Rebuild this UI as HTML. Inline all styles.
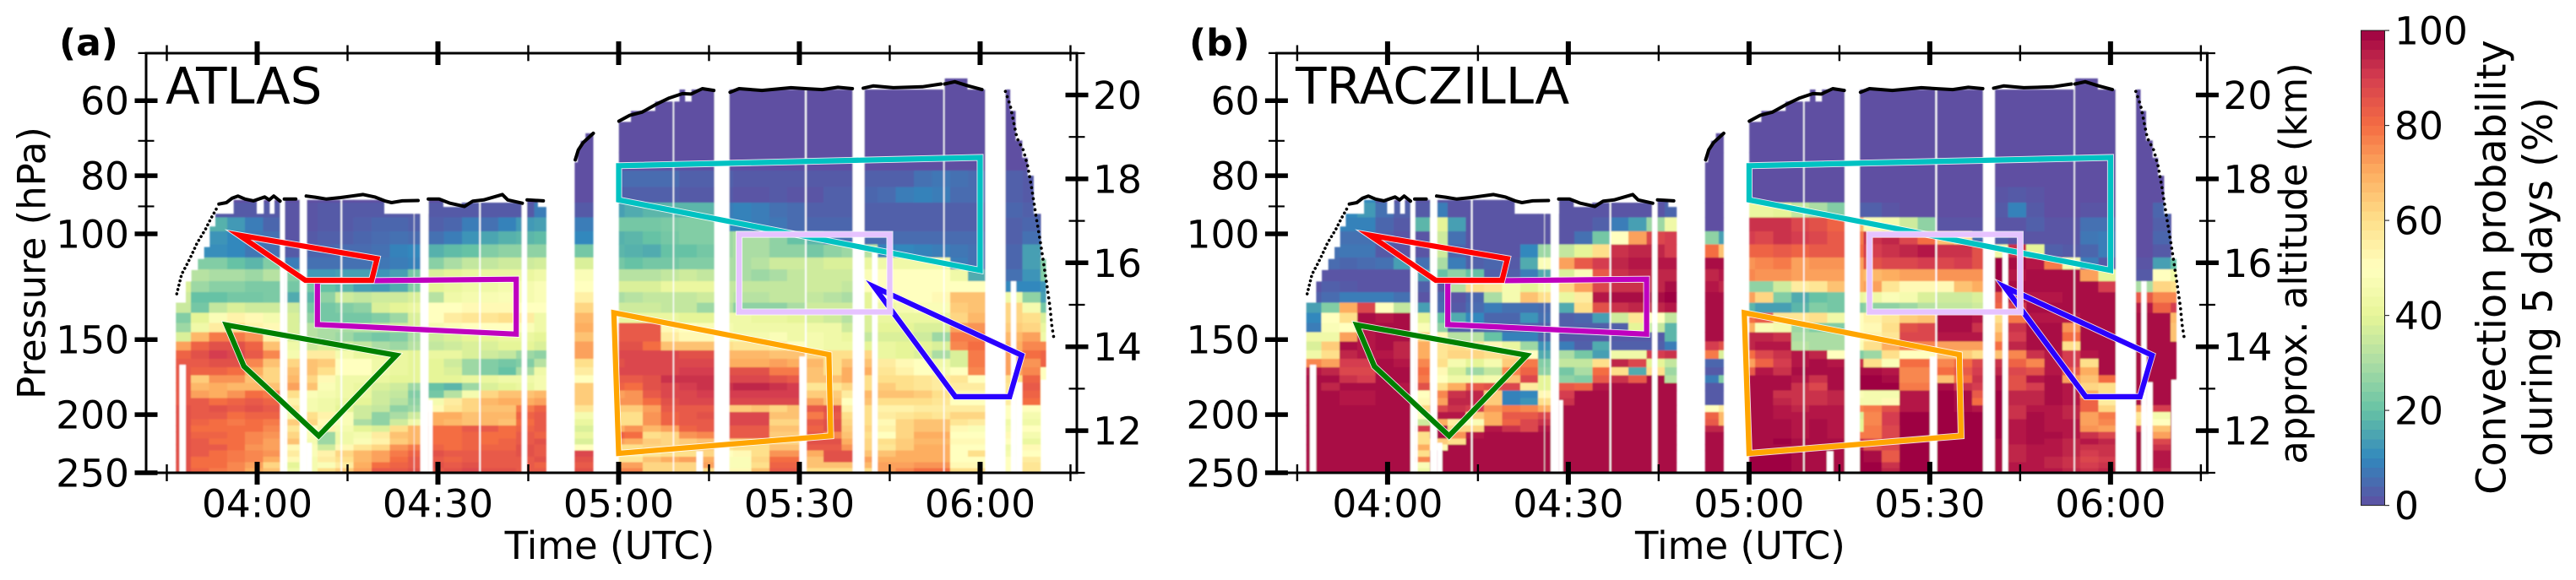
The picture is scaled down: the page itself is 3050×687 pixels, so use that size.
<!DOCTYPE html>
<html lang="en">
<head>
<meta charset="utf-8">
<title>Convection probability along flight: ATLAS and TRACZILLA</title>
<style>
html,body{margin:0;padding:0;background:#fff;}
svg{display:block;font-family:"DejaVu Sans","Liberation Sans",sans-serif;fill:#000;}
</style>
</head>
<body>
<svg id="figure" xmlns="http://www.w3.org/2000/svg" width="3050" height="687" viewBox="0 0 3050 687">
  <defs>
    <filter id="soft" x="-2%" y="-2%" width="104%" height="104%"><feGaussianBlur stdDeviation="0.7"/></filter>
  </defs>
  <rect x="0" y="0" width="3050" height="687" fill="#fff"/>
  <g id="panel-a"></g>
  <g id="panel-b"></g>
  <g id="colorbar"></g>

  <text x="70" y="65.7" font-size="44" font-weight="bold">(a)</text>
  <text x="1408" y="65.7" font-size="44" font-weight="bold">(b)</text>
  <text x="196" y="122.7" font-size="59.5">ATLAS</text>
  <text x="1534" y="122.7" font-size="59.7">TRACZILLA</text>
  <text x="722" y="662" font-size="45" text-anchor="middle">Time (UTC)</text>
  <text x="2060.4" y="662" font-size="45" text-anchor="middle">Time (UTC)</text>
  <text transform="translate(53.5,311.5) rotate(-90)" font-size="45" text-anchor="middle">Pressure (hPa)</text>
  <text transform="translate(2731,312) rotate(-90)" font-size="45" text-anchor="middle">approx. altitude (km)</text>
  <text transform="translate(2966.5,316.6) rotate(-90)" font-size="47.8" text-anchor="middle">Convection probability</text>
  <text transform="translate(3021.5,328) rotate(-90)" font-size="47.8" text-anchor="middle">during 5 days (%)</text>
</svg>
<script>
// ---------- data: columns start at -14 min relative to 04:00, 3 min wide ----------
const columnStart = -14;
const columnMinutes = 3;
const pressureEdges = [47.6,52.7,57.8,62.95,68.1,73.2,78.4,83.5,88.7,93.9,99,104.2,109.4,114.6,119.8,125,130.2,135.4,140.6,145.8,151,156.2,161.5,166.7,171.9,177.1,182.4,187.6,192.9,198.1,203.4,208.6,213.8,219.1,224.4,229.6,234.9,240.1,245.4,250.7,255.9,261.2];

const atlasValues = [
[0],[0],[0],[0],[0],[0],
[0,0,0,0,0,0,0,0,0,0,0,0,0,0,0,0,0,0,0,0,0,0,0,0, 5,5,5,5,3,3,3,2,2,2,2,2,2,2,3,3,3,6,7,6,5,5,3,2,0],
[0,0,0,0,0,0,0,0,0,0,0,0,0,0,0,0,0,0,0,0,0,0,0,0, 3,3,3,3,2,2,2,1,1,2,1,1,3,3,4,5,8,9,8,5,5,5,3,2,0],
[0,0,2,2,2,2,1,1,2,2,2,2,2,2,2,2,2,2,2,2,8,8,2,2, 14,16,18,18,18,18,8,9,8,6,5,3,3,3,3,3,3,3,3,3,3,3,4,3,0],
[0,0,17,13,8,4,1,1,2,2,3,4,4,3,3,4,8,6,9,13,14,14,8,8, 22,22,22,23,24,24,10,9,8,7,5,4,4,4,3,3,3,3,3,3,3,3,3,4,0],
[0,0,12,10,7,6,1,2,3,3,4,5,6,5,6,8,12,15,17,18,19,19,10,10, 17,18,20,22,24,24,28,30,30,26,20,18,7,6,5,5,5,5,5,5,5,3,3,6,0],
[0,11,11,10,7,6,2,4,4,5,5,6,9,10,17,19,20,24,26,26,26,26,22,22, 18,17,16,20,20,22,28,30,30,26,26,22,26,28,32,9,10,9,8,7,6,3,4,14,0],
[0,24,24,20,18,24,8,6,6,6,6,7,8,9,25,30,34,34,36,36,37,38,38,38, 22,20,22,22,24,24,30,30,32,36,36,36,38,38,42,44,44,44,44,8,6,3,4,14,24],
[0,32,30,30,28,32,25,13,13,14,14,12,14,22,38,40,42,42,42,42,44,46,48,48, 32,32,32,34,36,34,30,30,28,30,34,36,36,36,48,50,50,50,50,44,16,3,6,12,24],
[38,28,25,25,23,23,22,22,20,18,14,13,16,24,40,42,44,44,46,46,48,48,50,50, 38,38,38,42,42,42,34,34,34,34,34,36,36,34,50,50,50,50,50,50,50,3,10,10,12],
[36,20,20,22,22,23,16,18,26,36,34,36,36,38,32,44,46,47,48,46,48,48,55,55, 30,32,34,34,34,36,34,32,32,34,34,34,32,30,40,48,50,50,52,66,66,3,44,26,14],
[35,22,34,38,36,36,36,22,22,24,26,38,40,42,50,50,52,52,52,50,50,48,62,62, 36,36,36,34,34,28,32,26,26,26,30,36,36,36,40,44,46,48,48,64,66,3,62,46,22],
[24,40,48,54,52,46,38,26,22,22,22,24,28,38,50,56,58,58,60,56,44,44,68,68, 42,42,42,42,40,40,44,44,42,42,40,38,36,32,38,42,42,42,42,62,68,3,62,60,38],
[28,44,56,60,54,52,38,32,30,30,32,34,36,38,46,48,50,50,50,48,44,44,70,70, 84,84,84,52,50,48,46,44,44,44,44,44,44,36,38,40,40,38,38,72,74,3,64,62,42],
[38,68,78,78,74,54,38,32,30,28,24,22,24,30,36,38,40,40,42,42,40,40,66,66, 84,84,84,56,52,52,46,46,46,48,44,46,44,42,34,38,38,36,28,78,78,3,68,72,44],
[72,82,86,86,82,66,44,36,38,36,34,30,28,32,34,36,38,38,40,40,38,40,72,72, 86,86,80,66,66,66,60,58,58,56,50,46,44,44,40,42,40,40,38,76,80,3,70,76,76],
[82,86,90,88,84,76,46,56,56,46,42,42,42,40,42,42,38,36,34,28,26,30,72,72, 88,88,88,88,86,86,68,68,68,66,66,62,60,60,62,42,40,38,30,38,78,3,72,80,82],
[84,84,86,86,76,66,62,66,64,50,50,44,42,40,40,36,28,24,22,24,32,40,60,60, 86,88,88,88,88,88,70,70,70,72,70,68,60,66,66,56,52,50,44,38,78,3,72,74,82],
[84,82,82,80,70,62,66,66,60,50,50,44,42,40,40,38,28,24,20,30,44,46,56,56, 88,88,88,88,90,90,86,86,86,78,78,66,60,70,70,58,54,50,46,50,76,3,72,76,50],
[84,64,74,74,66,62,68,62,52,44,44,42,40,40,40,40,42,42,44,44,46,46,50,50, 84,84,86,92,92,92,88,88,88,86,84,66,66,70,60,60,60,58,56,58,50,3,60,82,50],
[84,68,70,68,68,66,72,66,48,44,42,38,36,28,20,18,28,38,40,42,46,46,64,64, 82,80,86,88,90,92,92,94,94,92,90,58,58,62,60,64,60,58,56,56,56,3,58,84,50],
[84,72,70,74,80,78,60,48,46,44,42,36,34,24,22,32,46,62,66,66,68,70,64,64, 72,74,84,88,88,90,90,90,90,90,90,64,64,56,68,66,66,64,60,52,52,3,58,82,50],
[84,84,80,82,84,82,54,46,44,42,40,36,32,26,46,56,62,68,70,70,72,74,64,64, 74,74,80,86,88,88,88,88,88,88,88,72,66,50,66,60,60,60,58,50,50,3,56,80,50],
[86,84,86,84,86,84,58,46,44,40,36,34,26,28,52,58,62,66,66,78,82,86,58,58, 64,64,72,84,84,84,64,64,66,62,66,84,86,54,60,54,54,56,56,56,56,3,50,50,50],
[86,84,84,80,82,82,46,60,54,48,36,26,30,36,70,70,66,68,68,82,84,88,46,46, 60,60,74,82,84,86,88,88,88,66,66,78,84,60,60,56,58,60,58,62,62,3,50,46,50],
[86,82,80,78,80,78,64,62,52,48,30,26,36,44,70,68,66,68,66,80,84,88,42,42, 60,60,74,82,84,84,88,88,88,62,62,84,86,62,60,52,62,66,66,58,56,3,44,44,50],
[86,80,80,80,80,76,58,50,54,46,40,38,60,68,80,80,84,84,80,82,84,86,38,38, 70,74,68,72,82,84,84,84,84,66,66,82,86,64,62,54,62,66,66,52,48,3,46,50,50],
[86,82,82,80,76,74,62,48,28,44,46,56,66,68,80,80,82,80,80,84,82,88,42,42, 82,80,60,62,74,76,84,84,84,64,64,84,76,66,60,50,62,70,70,50,50,3,52,46,50],
[86,84,80,80,76,72,66,46,28,44,48,54,64,68,80,80,82,80,82,84,86,86,38,38, 72,70,64,62,64,66,62,62,62,62,62,86,86,70,62,60,64,68,68,52,52,3,50,42,50],
[86,84,84,80,74,72,52,48,36,52,58,62,74,78,82,80,82,82,82,86,84,86,50,50, 60,60,62,62,62,64,58,60,60,66,66,84,84,74,62,58,64,70,70,50,50,3,44,52,50],
[86,84,80,78,76,74,56,48,54,62,68,72,78,82,86,84,84,84,84,86,84,84,88,88, 54,54,58,60,60,62,50,52,60,74,74,70,86,86,66,66,70,70,70,50,60,3,46,50,50],
[86,80,80,78,76,70,52,46,56,60,68,72,80,84,84,82,84,84,84,84,86,84,86,86, 58,58,66,70,72,70,48,48,62,80,80,66,86,86,72,70,70,70,70,50,50,3,50,56,50],
[86,80,80,76,72,62,40,46,48,56,70,80,82,84,86,84,86,84,84,84,82,84,84,84, 72,72,62,62,62,72,48,48,60,82,82,66,66,66,68,72,72,74,74,52,52,3,50,58,50],
[86,82,78,76,70,66,44,46,60,64,72,84,84,86,84,86,88,86,86,84,84,84,86,86, 76,76,62,62,62,60,52,52,66,84,84,60,60,60,60,72,76,80,80,60,60,3,50,58,50],
[86,82,80,76,72,66,42,46,58,62,72,82,84,84,86,86,88,86,88,86,84,84,86,86, 76,76,62,62,62,60,52,52,66,84,84,62,62,62,70,74,78,80,80,60,62,3,50,56,50],
[86,82,80,76,72,66,42,46,58,62,72,82,84,84,86,86,88,86,88,86,84,84,86,86, 76,76,62,62,62,60,52,52,66,84,84,62,62,62,70,74,78,80,80,60,62,3,50,56,50]
];

const traczillaValues = [
[0],[0],[0],[0],[0],[0],[0],
[1,1,1,10,1,1,1,1,1,1,1,1,1,1,1,1,1,1,1,1,1,1,0,0, 0,0,0,0,0,0,0,0,0,0,0,0,0,0,1,2,1,0,0,0,0,0,0,0,0],
[0,0,10,13,6,3,2,8,1,1,1,1,1,1,1,1,1,1,1,1,4,4,0,0, 42,42,40,34,30,24,3,3,1,0,0,0,0,0,2,9,2,0,0,1,1,0,0,4,0],
[0,0,9,9,4,2,18,40,14,1,1,1,1,1,1,1,3,8,14,28,44,50,0,0, 92,92,92,88,86,82,68,48,46,36,26,1,1,1,1,1,3,1,1,6,6,0,0,3,0],
[0,6,6,6,3,1,1,36,6,1,1,1,1,1,1,6,22,50,72,88,90,90,26,14, 90,88,92,90,88,84,78,92,94,88,80,66,60,6,3,1,1,1,1,7,8,0,0,4,0],
[0,6,7,7,2,1,1,36,4,1,1,1,10,28,34,40,60,92,94,94,90,90,80,66, 82,82,84,82,84,84,80,90,92,94,96,92,92,86,44,92,40,3,2,4,8,0,0,2,0],
[0,5,4,5,6,14,6,30,8,3,4,2,16,48,72,84,90,94,96,96,96,88,98,98, 74,76,78,72,74,74,72,86,88,88,90,88,90,86,100,98,96,78,46,8,2,0,1,14,20],
[0,1,1,1,1,1,14,20,26,20,3,3,8,16,38,48,84,92,94,94,94,94,94,96, 76,74,74,72,72,72,70,68,70,72,72,74,74,74,100,96,98,98,98,72,40,0,2,50,44],
[1,3,2,1,1,1,3,1,32,60,58,46,40,46,62,72,88,92,92,94,98,98,96,94, 26,26,36,56,58,66,70,72,58,52,52,52,66,70,98,98,98,98,98,98,90,0,30,62,60],
[3,5,8,8,8,6,1,4,1,4,30,46,66,60,42,56,96,98,98,98,100,98,98,98, 72,62,24,16,20,22,42,44,48,46,38,36,36,38,84,96,96,96,98,98,98,0,84,76,76],
[14,24,70,88,50,34,14,5,2,5,8,6,6,5,16,60,86,92,94,94,96,96,98,98, 18,14,14,18,24,22,24,26,26,28,32,34,34,36,82,90,98,98,98,98,98,0,96,82,90],
[10,50,60,98,96,98,40,20,16,10,4,4,12,6,3,4,14,36,58,50,34,34,98,98, 80,84,58,58,60,44,50,54,58,64,66,98,98,96,60,78,96,96,96,98,98,0,98,98,68],
[8,48,50,96,98,98,48,26,3,3,3,3,3,3,3,3,3,3,40,34,18,5,98,98, 70,48,46,28,24,24,50,52,60,86,88,98,98,92,64,92,98,98,74,98,98,0,98,98,66],
[44,44,72,96,98,98,62,52,32,32,20,9,9,4,2,2,2,2,2,2,18,2,98,98, 94,94,92,30,30,30,50,54,58,88,88,96,96,96,70,90,98,98,80,98,98,0,98,98,66],
[38,64,98,96,98,94,70,58,60,58,52,42,28,12,8,3,16,3,3,3,8,72,90,86, 94,96,96,32,30,30,48,60,70,76,76,72,72,72,80,94,98,98,60,98,98,0,98,98,98],
[44,60,94,96,96,94,70,58,62,62,60,62,50,16,30,22,14,44,44,90,92,76,78,38, 80,88,92,96,94,50,24,28,60,50,50,66,64,60,66,76,92,96,90,96,98,0,98,98,98],
[76,72,90,90,98,96,76,60,46,40,46,64,78,24,34,34,60,94,88,40,34,14,4,4, 72,82,90,96,98,96,92,60,48,80,80,76,80,88,92,82,76,96,90,60,98,0,98,98,98],
[96,94,88,88,98,98,80,52,38,28,34,76,82,26,22,30,80,60,16,60,28,100,2,2, 84,96,92,98,98,98,98,98,96,76,76,80,84,90,94,88,86,96,84,70,98,0,98,98,98],
[98,98,92,90,98,98,78,50,44,44,46,66,88,40,26,24,84,92,84,98,32,100,8,24, 98,98,98,96,92,98,100,100,98,76,76,66,80,92,98,86,96,98,72,66,80,0,98,98,98],
[98,94,98,98,98,96,86,60,70,84,86,88,56,40,84,82,96,98,98,98,98,98,2,2, 98,98,98,92,88,98,100,100,100,78,78,98,92,90,98,86,90,98,96,62,60,0,98,98,98],
[98,98,96,96,98,98,50,76,92,94,64,9,10,52,90,98,98,98,98,98,98,98,2,2, 98,98,92,92,92,94,48,46,46,96,96,100,98,84,100,94,94,98,96,70,60,0,98,98,98],
[98,98,96,96,98,98,52,72,94,94,64,9,12,60,92,98,98,98,98,98,98,98,2,2, 98,98,94,92,92,94,46,46,52,96,96,100,98,80,100,94,94,98,96,82,56,0,98,98,98],
[98,98,98,98,98,98,62,88,92,90,74,78,76,70,98,98,98,98,98,98,98,98,50,56, 98,98,96,94,96,96,76,78,86,96,96,100,98,96,100,92,96,96,94,82,62,0,72,90,98],
[98,98,98,98,98,98,50,96,96,64,70,84,84,88,98,98,98,98,98,98,98,98,82,68, 98,98,96,96,96,96,38,76,90,100,100,100,100,100,100,92,98,96,94,72,78,0,58,46,98],
[98,98,98,98,98,98,36,70,56,48,70,82,88,92,98,98,98,98,98,98,98,98,84,68, 98,98,98,96,98,96,40,76,90,100,100,100,100,100,100,96,98,96,96,72,76,0,60,50,98],
[98,98,98,98,98,98,90,98,62,62,96,92,88,96,98,98,98,98,98,98,98,98,94,94, 98,98,98,96,98,96,40,78,88,100,100,100,100,100,100,96,98,96,96,74,72,0,90,66,98],
[98,98,98,98,98,98,60,98,74,96,98,98,98,98,98,98,98,98,98,98,98,98,98,98, 98,98,98,96,98,96,78,78,88,100,100,100,100,100,100,96,98,98,96,92,88,0,98,72,98],
[98,98,98,98,98,98,60,64,60,98,98,98,98,98,98,98,98,98,98,98,98,98,98,98, 98,98,100,98,98,98,92,90,92,100,100,100,100,100,98,96,98,96,94,96,94,0,98,88,98],
[98,98,98,98,98,98,70,52,98,98,98,98,98,98,98,98,98,98,98,98,98,98,98,98, 98,98,98,98,98,98,96,86,88,100,100,100,100,100,98,94,96,96,94,92,92,0,98,92,98],
[98,98,98,98,98,98,60,98,98,98,98,98,98,98,98,98,98,98,98,98,98,98,98,98, 100,100,100,98,98,98,100,98,84,100,100,100,100,100,98,94,96,96,94,90,92,0,98,96,98],
[98,98,98,98,98,98,76,98,98,98,98,98,98,98,98,98,98,98,98,98,98,98,98,98, 100,100,100,98,98,98,100,98,84,100,100,100,100,100,98,94,96,94,92,88,90,0,98,96,98],
[98,98,98,98,98,98,48,98,98,98,98,98,98,98,98,98,98,98,98,98,98,98,98,98, 100,100,100,98,98,98,100,100,92,100,100,100,100,100,98,96,96,94,92,90,92,0,98,96,98],
[98,98,98,98,98,98,44,98,98,98,98,98,98,98,98,98,98,98,98,98,98,98,98,98, 100,100,100,98,98,98,100,100,94,100,100,100,100,100,98,96,96,96,94,92,94,0,98,94,98],
[98,98,98,98,98,98,60,98,98,98,98,98,98,98,98,98,98,98,98,98,98,98,98,98, 100,100,100,98,98,98,100,100,98,100,100,100,100,100,98,96,96,96,94,92,94,0,98,94,98],
[98,98,98,98,98,98,60,98,98,98,98,98,98,98,98,98,98,98,98,98,98,98,98,98, 100,100,100,98,98,98,100,100,98,100,100,100,100,100,98,96,96,96,94,92,94,0,98,94,98]
];

// sampled-volume top: start minute of each step and its top pressure; null means no data until next step
const ceilingStarts = [-13.49,-11.85,-10.91,-9.84,-8.8,-7.87,-6.94,-3.9,-0.07,1.1,2.08,2.88,21.1,28.44,30.9,33.95,44,46.6,48,52.7,53.2,53.7,54.5,55.8,60.04,62.04,66.07,70.1,71.03,72.1,113.99,117.9,120.86,124.2,125,125.9,127,127.9,128.9,130.1,130.95];
const ceilingTops = [130.2,120,114.9,110.1,105.2,97.2,92.6,87.8,92.6,87.8,92.6,87.8,92.6,87.8,90.2,88.7,87.8,90.2,null,76,72,70,68,null,65.1,62.4,60.2,57.5,60.2,57.5,55.1,57.5,null,57.5,62.4,69.9,74.7,80,92.6,110.1,null];

// missing-data stripes: start minute, end minute, pressure where the stripe begins
const gapStarts = [-12.9,3.8,4.6,7.08,8.25,13.85,26,27.08,28.44,36.85,43.9,69.0,72.9,75.87,90.93,90,98.84,102.06,113.9,120.86,125.1,126,130.1];
const gapEnds = [-11.85,4.6,5,8.25,9.09,14.1,26.1,28.44,29.13,37.1,44.8,69.2,74,78.38,91.2,91.2,100.8,103,114.1,124.2,126,127,131.2];
const gapTops = [165.2,50,113.7,50,222.8,50,50,50,189.2,50,50,50,230.1,50,50,160,50,106.6,50,50,119.9,176.6,175];

// flight track (null breaks the line)
const flightTimes = [-6.35,-5.1,-4.15,-3.2,-2,-0.6,1.25,2,2.75,3.8,null,4.5,6.4,null,8.15,9.65,11.5,13.85,15.7,17.6,19.5,21.3,22.3,24.1,26.7,null,28.4,30.2,32,34.4,35.8,37.6,40.7,41.6,44,null,44.8,47.5,null,52.8,53.3,54.1,55.8,null,60.05,61.8,63.9,66.3,68.4,70.6,72,73.9,75.8,null,78.5,80,83.8,88.6,91,93.8,96.4,98.8,null,100.6,102.3,105.6,110.4,113.5,null,114.1,115.8,118,120.3];
const flightPressures = [89.2,88.7,87.2,86.5,87.5,88.1,86.8,87.8,86.5,88.2,null,87.5,87.5,null,86.5,86.9,87.5,87,86.5,86,86.8,88.2,88.7,88.1,88,null,87.5,87.5,88.9,90,88.2,87.8,86,87.8,88.9,null,87.8,88.1,null,75.3,72.5,70.5,68,null,64.9,63.5,62.7,60.8,59.4,58.4,58.5,57.3,57.7,null,58.1,57.3,57.7,57.1,57.3,57.5,57,57.3,null,57.2,56.7,57.1,56.9,56.3,null,56.3,55.8,56.7,57.5];
const ascentTimes = [-13.35,-12.55,-11.6,-10.9,-10,-8.6,-7.65,-6.7];
const ascentPressures = [125.9,116.8,112.1,108.5,103.7,98.3,94.2,90.6];
const descentTimes = [124.2,125,126.1,127.2,127.9,128.6,129.3,130,130.5,131,131.6,131.9,132.3];
const descentPressures = [57.9,61.1,69.2,72.6,77.1,84.4,93.7,103.2,111.3,120,132.3,141.9,150.5];

// annotated regions in time (minutes after 04:00) and pressure (hPa)
const regionNames = ['magenta-region','red-region','green-region','cyan-region','orange-region','blue-region','lavender-region'];
const regionTimes = [[10,43,43,10],[-3,19.9,19,8],[-5.1,23.1,10.2,-2.2],[60,120,120,60],[59.2,94.9,95.2,60],[102.4,126.9,124.9,115.9],[80,105,105,80]];
const regionPressures = [[119.9,119,146.9,141.6],[100.5,110,119.5,119.5],[141.8,159.3,217,166.2],[77,74.6,115,87.8],[135.3,158.9,217,232],[122.5,159.3,186.7,186.7],[100.2,100.2,134.9,134.9]];
const regionColors = ['#bf00bf','#ff0000','#008000','#00c2c2','#ffa500','#2a00ff','#e6c3ff'];

const timeMajorTicks = [0,30,60,90,120];
const timeMajorLabels = ['04:00','04:30','05:00','05:30','06:00'];
const timeMinorTicks = [-15,15,45,75,105,135];
const pressureMajorTicks = [60,80,100,150,200,250];
const pressureMajorLabels = ['60','80','100','150','200','250'];
const pressureMinorTicks = [50,70,90];
const altitudeMajorTicks = [12,14,16,18,20];
const altitudeMajorLabels = ['12','14','16','18','20'];
const altitudeMinorTicks = [13,15,17,19];
const colorbarTicks = [0,20,40,60,80,100];
const colorbarLabels = ['0','20','40','60','80','100'];
const spectralStops = [[94,79,162],[50,136,189],[102,194,165],[171,221,164],[230,245,152],[255,255,191],[254,224,139],[253,174,97],[244,109,67],[213,62,79],[158,1,66]];

// ---------- scales ----------
const NS = 'http://www.w3.org/2000/svg';
const panelOffset = {a:0,b:1338.4};
const frameLeft = 173, frameRight = 1275, frameTop = 63, frameBottom = 560;
const tickFont = 45.5;
function xScale(t, dx){ return dx + 304.5 + 7.133 * t; }
function yScale(p){ return 277 + 308.9 * Math.log(p / 100); }
function altScale(km){ return 510.1 - (km - 12) * 49.7; }
function cbScale(v){ return 598.6 - v * 5.625; }
function spectral(v){
  const c = Math.max(0, Math.min(100, v)) / 10;
  const i = Math.min(9, Math.floor(c));
  const f = c - i;
  const a = spectralStops[i], b = spectralStops[i + 1];
  return 'rgb(' + [0,1,2].map(k => Math.round(a[k] + (b[k] - a[k]) * f)).join(',') + ')';
}
function make(tag, parent, attrs){
  const el = document.createElementNS(NS, tag);
  for (const k in attrs) el.setAttribute(k, attrs[k]);
  parent.appendChild(el);
  return el;
}

function drawPanel(root, key, values){
  const dx = panelOffset[key];

  // clip of sampled volume
  const defs = make('defs', root, {});
  const clip = make('clipPath', defs, {id: 'volume-' + key});
  ceilingStarts.forEach((s, i) => {
    if (ceilingTops[i] === null || i === ceilingStarts.length - 1) return;
    make('rect', clip, {
      x: xScale(s, dx), y: yScale(ceilingTops[i]),
      width: xScale(ceilingStarts[i + 1], dx) - xScale(s, dx),
      height: frameBottom - yScale(ceilingTops[i])
    });
  });

  const soft = make('g', root, {filter: 'url(#soft)'});
  
  
  const cells = make('g', soft, {'clip-path': 'url(#volume-' + key + ')', 'shape-rendering': 'crispEdges'});
  
  
  values.forEach((row, r) => {
    const yTop = yScale(pressureEdges[r]);
    const yBot = Math.min(frameBottom, yScale(pressureEdges[r + 1]));
    if (yTop >= frameBottom) return;
    const count = row.length === 1 ? 49 : row.length;
    for (let c = 0; c < count; c++) {
      const v = row.length === 1 ? row[0] : row[c];
      const x0 = xScale(columnStart + c * columnMinutes, dx);
      const x1 = xScale(columnStart + (c + 1) * columnMinutes, dx);
      const cell = make('rect', cells, {x: x0, y: yTop, width: x1 - x0 + 0.4, height: yBot - yTop + 0.4, fill: spectral(v)});
      
      
    }
  });

  // missing-data stripes
  gapStarts.forEach((s, i) => {
    const g = make('rect', soft, {
      x: xScale(s, dx), y: yScale(gapTops[i]),
      width: xScale(gapEnds[i], dx) - xScale(s, dx),
      height: frameBottom - yScale(gapTops[i]), fill: '#fff'
    });
    
    
  });

  // flight track
  let segments = [], current = [];
  flightTimes.forEach((t, i) => {
    if (t === null) { segments.push(current); current = []; }
    else current.push(xScale(t, dx).toFixed(1) + ',' + yScale(flightPressures[i]).toFixed(1));
  });
  segments.push(current);
  segments.forEach(seg => {
    const line = make('polyline', root, {points: seg.join(' '), fill: 'none', stroke: '#000', 'stroke-width': 4, 'stroke-linejoin': 'round', 'stroke-linecap': 'round'});
    
    
  });
  const asc = make('polyline', root, {points: ascentTimes.map((t, i) => xScale(t, dx).toFixed(1) + ',' + yScale(ascentPressures[i]).toFixed(1)).join(' '), fill: 'none', stroke: '#000', 'stroke-width': 3.6, 'stroke-linecap': 'round', 'stroke-dasharray': '0.1 5.2'});
  
  
  const desc = make('polyline', root, {points: descentTimes.map((t, i) => xScale(t, dx).toFixed(1) + ',' + yScale(descentPressures[i]).toFixed(1)).join(' '), fill: 'none', stroke: '#000', 'stroke-width': 3.6, 'stroke-linecap': 'round', 'stroke-dasharray': '0.1 6.5'});
  
  

  // annotated regions
  regionNames.forEach((name, i) => {
    const pts = regionTimes[i].map((t, j) => xScale(t, dx).toFixed(1) + ',' + yScale(regionPressures[i][j]).toFixed(1)).join(' ');
    const halo = make('polygon', root, {points: pts, fill: 'none', stroke: '#fff', 'stroke-width': 8, 'stroke-linejoin': 'miter', 'stroke-miterlimit': 20, opacity: 0.85});
    
    
    const poly = make('polygon', root, {points: pts, fill: 'none', stroke: regionColors[i], 'stroke-width': 6.2, 'stroke-linejoin': 'miter', 'stroke-miterlimit': 20});
    
    
  });

  // frame
  const L = frameLeft + dx, R = frameRight + dx;
  const frame = make('rect', root, {x: L, y: frameTop, width: R - L, height: frameBottom - frameTop, fill: 'none', stroke: '#000', 'stroke-width': 3});
  
  

  // time ticks
  timeMajorTicks.forEach((t, i) => {
    const x = xScale(t, dx);
    const top = make('line', root, {x1: x, x2: x, y1: 49, y2: 77, stroke: '#000', 'stroke-width': 6});
    
    
    const bot = make('line', root, {x1: x, x2: x, y1: 547, y2: 574, stroke: '#000', 'stroke-width': 6});
    
    
    const label = make('text', root, {x: x, y: 612.5, 'font-size': tickFont, 'text-anchor': 'middle'});
    label.textContent = timeMajorLabels[i];
    
    
  });
  timeMinorTicks.forEach(t => {
    const x = xScale(t, dx);
    const top = make('line', root, {x1: x, x2: x, y1: 53.5, y2: 72.3, stroke: '#000', 'stroke-width': 2.4});
    
    
    const bot = make('line', root, {x1: x, x2: x, y1: 550, y2: 570, stroke: '#000', 'stroke-width': 2.4});
    
    
  });

  // pressure ticks
  pressureMajorTicks.forEach((p, i) => {
    const y = yScale(p);
    const tick = make('line', root, {x1: L - 13.5, x2: L + 13.5, y1: y, y2: y, stroke: '#000', 'stroke-width': 5.5});
    
    
    const label = make('text', root, {x: L - 20, y: y + 16.5, 'font-size': tickFont, 'text-anchor': 'end'});
    label.textContent = pressureMajorLabels[i];
    
    
  });
  pressureMinorTicks.forEach(p => {
    const y = yScale(p);
    const tick = make('line', root, {x1: L - 9.5, x2: L + 9.5, y1: y, y2: y, stroke: '#000', 'stroke-width': 2.2});
    
    
  });

  // altitude ticks
  altitudeMajorTicks.forEach((km, i) => {
    const y = altScale(km);
    const tick = make('line', root, {x1: R - 13.5, x2: R + 13.5, y1: y, y2: y, stroke: '#000', 'stroke-width': 5.5});
    
    
    const label = make('text', root, {x: R + 19, y: y + 16.5, 'font-size': tickFont});
    label.textContent = altitudeMajorLabels[i];
    
    
  });
  altitudeMinorTicks.forEach(km => {
    const y = altScale(km);
    const tick = make('line', root, {x1: R - 9.5, x2: R + 9.5, y1: y, y2: y, stroke: '#000', 'stroke-width': 2.2});
    
    
  });
  [frameTop, frameBottom].forEach(y => {
    const tick = make('line', root, {x1: R - 9.5, x2: R + 9.5, y1: y, y2: y, stroke: '#000', 'stroke-width': 2.2});
    
    
  });
}

drawPanel(document.getElementById('panel-a'), 'a', atlasValues);
drawPanel(document.getElementById('panel-b'), 'b', traczillaValues);

// ---------- colorbar ----------
const cb = document.getElementById('colorbar');
const cbBands = 50;
for (let i = 0; i < cbBands; i++) {
  const v0 = i * 100 / cbBands, v1 = (i + 1) * 100 / cbBands;
  const band = make('rect', cb, {x: 2795.5, y: cbScale(v1), width: 28, height: cbScale(v0) - cbScale(v1) + 0.5, fill: spectral((v0 + v1) / 2), 'shape-rendering': 'crispEdges'});
  
  
}
const cbOutline = make('rect', cb, {x: 2795.5, y: cbScale(100), width: 28, height: cbScale(0) - cbScale(100), fill: 'none', stroke: '#222', 'stroke-width': 1});


colorbarTicks.forEach((v, i) => {
  const y = cbScale(v);
  const tick = make('line', cb, {x1: 2823.5, x2: 2829, y1: y, y2: y, stroke: '#333', 'stroke-width': 1.2});
  
  
  const label = make('text', cb, {x: 2835, y: y + 16.5, 'font-size': tickFont});
  label.textContent = colorbarLabels[i];
  
  
});
</script>
</body>
</html>
